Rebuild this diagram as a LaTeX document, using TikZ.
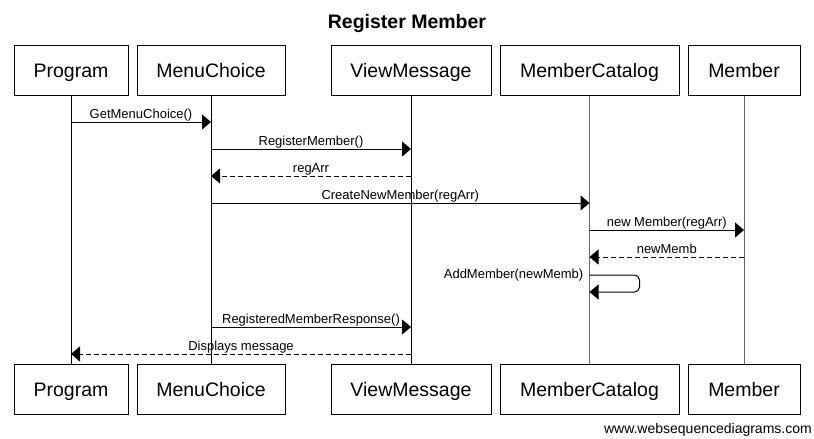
\documentclass[tikz,border=0pt]{standalone}
\usepackage{fontspec}
\setmainfont{Liberation Sans}
\usetikzlibrary{arrows.meta}

\tikzset{
  actor/.style={draw, line width=1pt, minimum height=50pt, inner sep=0pt,
    text height=14pt, text depth=0pt, font=\fontsize{19.5}{23}\selectfont},
  life/.style={line width=1pt},
  msg/.style={line width=1pt, -{Triangle[length=9pt, width=15pt]}},
  reply/.style={msg, dash pattern=on 5pt off 3pt},
  lbl/.style={midway, anchor=base, yshift=4pt, inner sep=0pt, font=\fontsize{13}{15}\selectfont},
}

\begin{document}
\begin{tikzpicture}[x=1pt, y=-1pt]
  \useasboundingbox (0,0) rectangle (814,439);

  \node[anchor=base, font=\bfseries\fontsize{19.5}{23}\selectfont] (title) at (407,28) {Register Member};

  % participants, top row
  \node[actor, minimum width=114pt] (prog) at (71,70) {Program};
  \node[actor, minimum width=148pt] (menu) at (211,70) {MenuChoice};
  \node[actor, minimum width=160pt] (view) at (411,70) {ViewMessage};
  \node[actor, minimum width=179pt] (cat) at (589.5,70) {MemberCatalog};
  \node[actor, minimum width=112pt] (memb) at (744,70) {Member};

  % participants, bottom row
  \node[actor, minimum width=114pt] (progB) at (71,389) {Program};
  \node[actor, minimum width=148pt] (menuB) at (211,389) {MenuChoice};
  \node[actor, minimum width=160pt] (viewB) at (411,389) {ViewMessage};
  \node[actor, minimum width=179pt] (catB) at (589.5,389) {MemberCatalog};
  \node[actor, minimum width=112pt] (membB) at (744,389) {Member};

  \draw[life] (prog) -- (progB);
  \draw[life] (menu) -- (menuB);
  \draw[life] (view) -- (viewB);
  \draw[life, black!60] (cat) -- (catB);
  \draw[life, black!60] (memb) -- (membB);

  % message rows
  \coordinate (r1) at (0,122);
  \coordinate (r2) at (0,149);
  \coordinate (r3) at (0,176);
  \coordinate (r4) at (0,203);
  \coordinate (r5) at (0,230);
  \coordinate (r6) at (0,257);
  \coordinate (r7) at (0,275);
  \coordinate (r8) at (0,292);
  \coordinate (r9) at (0,327);
  \coordinate (r10) at (0,354);

  \draw[msg] (prog |- r1) -- node[lbl] {GetMenuChoice()} (menu |- r1);
  \draw[msg] (menu |- r2) -- node[lbl] {RegisterMember()} (view |- r2);
  \draw[reply] (view |- r3) -- node[lbl] {regArr} (menu |- r3);
  \draw[msg] (menu |- r4) -- node[lbl] {CreateNewMember(regArr)} (cat |- r4);
  \draw[msg] (cat |- r5) -- node[lbl] {new Member(regArr)} (memb |- r5);
  \draw[reply] (memb |- r6) -- node[lbl] {newMemb} (cat |- r6);

  \draw[msg, rounded corners=5pt] (cat |- r7) -- ++(50,0) -- ++(0,17) -- (cat |- r8);
  \node[anchor=east, inner sep=0pt, font=\fontsize{13}{15}\selectfont] (addlbl) at ([xshift=-6pt]cat |- r7) {AddMember(newMemb)};

  \draw[msg] (menu |- r9) -- node[lbl] {RegisteredMemberResponse()} (view |- r9);
  \draw[reply] (view |- r10) -- node[lbl] {Displays message} (prog |- r10);

  \node[anchor=base east, inner sep=0pt, font=\fontsize{14}{16}\selectfont] (wsd) at (812,433) {www.websequencediagrams.com};
\end{tikzpicture}
\end{document}
